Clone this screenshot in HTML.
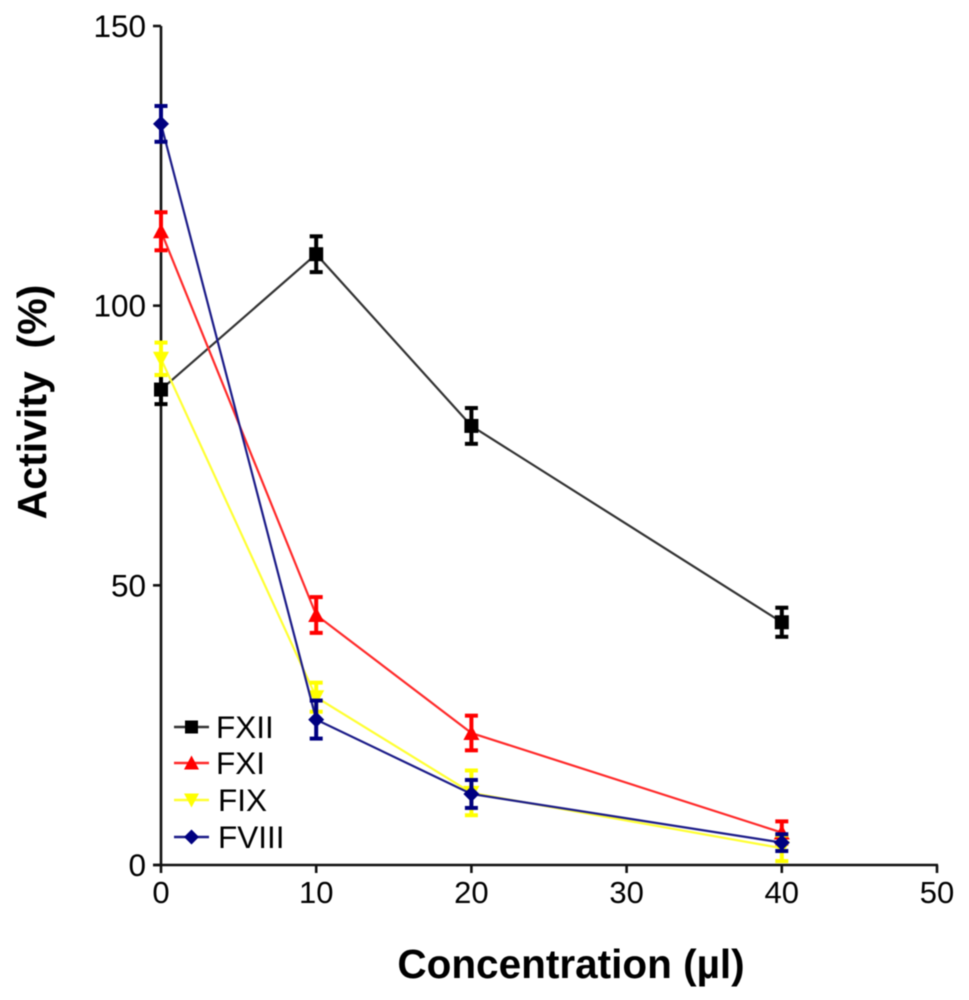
<!DOCTYPE html>
<html>
<head>
<meta charset="utf-8">
<style>
html,body{margin:0;padding:0;background:#fff;width:969px;height:1000px;overflow:hidden}
svg{display:block;font-family:"Liberation Sans",Arial,sans-serif;filter:blur(0.45px)}
</style>
</head>
<body>
<svg id="chart" width="969" height="1000" viewBox="0 0 969 1000" xmlns="http://www.w3.org/2000/svg"></svg>
<script>
const categories = [0, 10, 20, 40];
const xTicks = [0, 10, 20, 30, 40, 50];
const yTicks = [0, 50, 100, 150];
const seriesNames = ['FXII', 'FXI', 'FIX', 'FVIII'];
const seriesColors = ['#000000', '#ff0000', '#ffff00', '#000080'];
const lineColors = ['#333333', '#ff2a2a', '#ffff33', '#1c1c88'];
const markerShapes = ['square', 'up', 'down', 'diamond'];
const fxiiValues = [85, 109.2, 78.5, 43.4];
const fxiiErrors = [2.6, 3.2, 3.2, 2.6];
const fxiValues = [113.3, 44.7, 23.6, 5.8];
const fxiErrors = [3.4, 3.2, 3.1, 2];
const fixValues = [90.5, 30, 12.9, 3];
const fixErrors = [2.9, 2.6, 4, 2.3];
const fviiiValues = [132.5, 26, 12.7, 4];
const fviiiErrors = [3.2, 3.4, 2.5, 1.5];
const seriesValues = [fxiiValues, fxiValues, fixValues, fviiiValues];
const seriesErrors = [fxiiErrors, fxiErrors, fixErrors, fviiiErrors];

const NS = 'http://www.w3.org/2000/svg';
const svg = document.getElementById('chart');
const xScale = v => 161 + (v - 0) * (937 - 161) / 50;
const yScale = v => 865 - v * (865 - 26) / 150;

function make(tag, attrs, parent, text) {
  const el = document.createElementNS(NS, tag);
  for (const k in attrs) el.setAttribute(k, attrs[k]);
  if (text !== undefined) el.textContent = text;
  (parent || svg).appendChild(el);
  return el;
}

function drawMarker(parent, shape, cx, cy, color, s) {
  let m;
  if (shape === 'square') {
    m = make('rect', {x: cx - s, y: cy - s, width: 2 * s, height: 2 * s, fill: color}, parent);
  } else if (shape === 'up') {
    m = make('polygon', {points: `${cx},${cy - s - 1} ${cx + s + 1},${cy + s} ${cx - s - 1},${cy + s}`, fill: color}, parent);
  } else if (shape === 'down') {
    m = make('polygon', {points: `${cx},${cy + s + 1} ${cx + s + 1},${cy - s} ${cx - s - 1},${cy - s}`, fill: color}, parent);
  } else {
    m = make('polygon', {points: `${cx},${cy - s - 1} ${cx + s + 1},${cy} ${cx},${cy + s + 1} ${cx - s - 1},${cy}`, fill: color}, parent);
  }
  
  
  return m;
}

/* axes */
const axes = make('g', {stroke: '#111111', 'stroke-width': 2.6, fill: 'none'});


const yAxis = make('line', {x1: 161, y1: 26, x2: 161, y2: 866}, axes);


const xAxis = make('line', {x1: 153, y1: 865, x2: 938, y2: 865}, axes);



xTicks.forEach(t => {
  const tick = make('line', {x1: xScale(t), y1: 865, x2: xScale(t), y2: 873}, axes);
  
  
  const lab = make('text', {x: xScale(t), y: 903, 'font-size': 31, 'text-anchor': 'middle', fill: '#000'}, svg, String(t));
  
  
});
yTicks.forEach(t => {
  const tick = make('line', {x1: 153, y1: yScale(t), x2: 161, y2: yScale(t)}, axes);
  
  
  const lab = make('text', {x: 146, y: yScale(t) + 11, 'font-size': 31.5, 'text-anchor': 'end', fill: '#000'}, svg, String(t));
  
  
});

/* series */
seriesNames.forEach((name, i) => {
  const g = make('g', {});
  
  
  const pts = categories.map((c, j) => xScale(c) + ',' + yScale(seriesValues[i][j])).join(' ');
  const line = make('polyline', {points: pts, fill: 'none', stroke: lineColors[i], 'stroke-width': 2.2}, g);
  
  
  categories.forEach((c, j) => {
    const cx = xScale(c);
    const top = yScale(seriesValues[i][j] + seriesErrors[i][j]);
    const bot = yScale(seriesValues[i][j] - seriesErrors[i][j]);
    const eg = make('g', {stroke: seriesColors[i], 'stroke-width': 4, fill: 'none'}, g);
    
    
    make('line', {x1: cx, y1: top, x2: cx, y2: bot}, eg);
    make('line', {x1: cx - 6.5, y1: top, x2: cx + 6.5, y2: top}, eg);
    make('line', {x1: cx - 6.5, y1: bot, x2: cx + 6.5, y2: bot}, eg);
    drawMarker(g, markerShapes[i], cx, yScale(seriesValues[i][j]), seriesColors[i], 7);
  });
});

/* legend */
const legendY = [727, 763, 800, 837];
const legendTextX = [216, 216, 218, 218];
const legend = make('g', {});


seriesNames.forEach((name, i) => {
  const g = make('g', {}, legend);
  
  
  make('line', {x1: 174, y1: legendY[i], x2: 209, y2: legendY[i], stroke: lineColors[i], 'stroke-width': 2.6}, g);
  drawMarker(g, markerShapes[i], 191.5, legendY[i], seriesColors[i], 6.5);
  make('text', {x: legendTextX[i], y: legendY[i] + 11, 'font-size': 31.5, fill: '#000'}, g, name);
});

/* titles */
const xTitle = make('text', {x: 571, y: 978, 'font-size': 40.5, 'font-weight': 'bold', 'text-anchor': 'middle', fill: '#000'}, svg, 'Concentration (µl)');


const yTitle = make('text', {transform: 'translate(46,402) rotate(-90)', 'font-size': 41, 'font-weight': 'bold', 'text-anchor': 'middle', fill: '#000', style: 'white-space:pre'}, svg, 'Activity  (%)');


</script>
</body>
</html>
